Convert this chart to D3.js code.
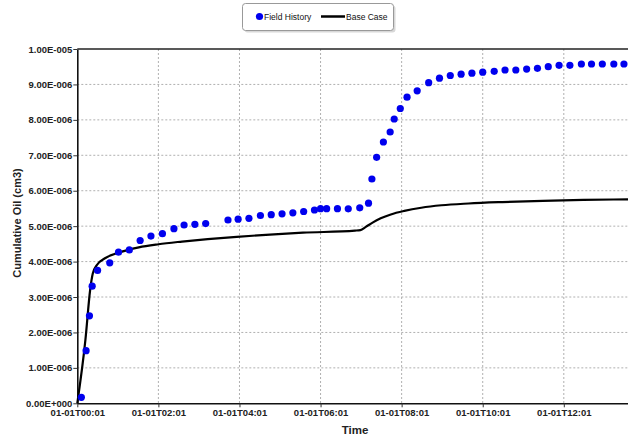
<!DOCTYPE html>
<html>
<head>
<meta charset="utf-8">
<script src="https://cdn.jsdelivr.net/npm/d3@7"></script>
<style>
  html, body { margin: 0; padding: 0; background: #fff; }
  svg { display: block; font-family: "Liberation Sans", Arial, sans-serif; }
</style>
</head>
<body>
<svg id="chart" width="628" height="442"></svg>
<script>
// ---- Data (time in minutes after 01-01 00:00, cumulative oil in cm3) ----
const fieldTime = [7, 14, 19, 23, 31, 49, 62, 78, 94, 110, 127, 144, 159, 175, 191,
  224, 239, 255, 272, 288, 304, 320, 336, 352, 361, 370, 386, 402, 419,
  432, 437, 444, 454, 464, 470, 479, 489, 504, 521, 537, 553, 569, 585, 601,
  618, 634, 650, 666, 682, 698, 714, 730, 747, 762, 778, 795, 810];
const fieldOil = [0.17e-6, 1.485e-6, 2.47e-6, 3.305e-6, 3.75e-6, 3.965e-6, 4.265e-6, 4.33e-6, 4.595e-6, 4.72e-6,
  4.787e-6, 4.928e-6, 5.032e-6, 5.052e-6, 5.072e-6,
  5.174e-6, 5.196e-6, 5.222e-6, 5.30e-6, 5.323e-6, 5.349e-6, 5.377e-6, 5.413e-6, 5.456e-6, 5.493e-6,
  5.493e-6, 5.493e-6, 5.49e-6, 5.518e-6,
  5.648e-6, 6.331e-6, 6.943e-6, 7.375e-6, 7.657e-6, 8.024e-6, 8.321e-6, 8.64e-6, 8.82e-6, 9.049e-6,
  9.176e-6, 9.252e-6, 9.289e-6, 9.317e-6, 9.345e-6, 9.371e-6, 9.407e-6, 9.407e-6, 9.433e-6, 9.455e-6,
  9.50e-6, 9.54e-6, 9.54e-6, 9.577e-6, 9.577e-6, 9.577e-6, 9.577e-6, 9.577e-6];

const baseTime = [1, 13, 20, 24, 30, 42, 62, 92, 121, 156, 194, 237, 286, 335, 412, 420,
  428, 438, 450, 465, 485, 510, 540, 580, 630, 690, 750, 816];
const baseOil = [0, 1.787e-6, 3.198e-6, 3.669e-6, 3.903e-6, 4.093e-6, 4.25e-6, 4.403e-6, 4.49e-6, 4.565e-6,
  4.635e-6, 4.70e-6, 4.762e-6, 4.815e-6, 4.875e-6, 4.89e-6,
  4.98e-6, 5.10e-6, 5.22e-6, 5.33e-6, 5.43e-6, 5.52e-6, 5.59e-6, 5.64e-6, 5.68e-6, 5.715e-6, 5.74e-6, 5.758e-6];

const xTickValues = [1, 121, 241, 361, 481, 601, 721];
const xTickLabels = ["01-01T00:01", "01-01T02:01", "01-01T04:01", "01-01T06:01",
  "01-01T08:01", "01-01T10:01", "01-01T12:01"];
const yTickValues = [0, 1e-6, 2e-6, 3e-6, 4e-6, 5e-6, 6e-6, 7e-6, 8e-6, 9e-6, 1e-5];
const yTickLabels = ["0.00E+000", "1.00E-006", "2.00E-006", "3.00E-006", "4.00E-006", "5.00E-006",
  "6.00E-006", "7.00E-006", "8.00E-006", "9.00E-006", "1.00E-005"];

const seriesNames = ["Field History", "Base Case"];
const xTitle = "Time";
const yTitle = "Cumulative Oil (cm3)";

// ---- Layout ----
const svg = d3.select("#chart");
const pLeft = 77.3, pRight = 628, pTop = 49, pBottom = 403.3;

const x = d3.scaleLinear().domain([1, 816]).range([pLeft, pRight]);
const y = d3.scaleLinear().domain([0, 1e-5]).range([pBottom, pTop]);

// grid
const grid = svg.append("g");
grid.selectAll("line.v").data(xTickValues.slice(1)).join("line")
  .attr("x1", d => x(d)).attr("x2", d => x(d))
  .attr("y1", pTop).attr("y2", pBottom)
  .attr("stroke", "#b0b0b0").attr("stroke-width", 1).attr("stroke-dasharray", "2,2");
grid.selectAll("line.h").data(yTickValues.slice(1, -1)).join("line")
  .attr("x1", pLeft).attr("x2", pRight)
  .attr("y1", d => y(d)).attr("y2", d => y(d))
  .attr("stroke", "#b0b0b0").attr("stroke-width", 1).attr("stroke-dasharray", "2,2");

// top border
svg.append("line").attr("x1", pLeft).attr("x2", pRight).attr("y1", pTop).attr("y2", pTop)
  .attr("stroke", "#222").attr("stroke-width", 1.3);

// axes
const xAxis = d3.axisBottom(x).tickValues(xTickValues)
  .tickFormat((d, i) => xTickLabels[i]).tickSize(4).tickSizeOuter(0);
const gx = svg.append("g").attr("transform", `translate(0,${pBottom})`).call(xAxis);
gx.select(".domain").attr("stroke", "#111").attr("stroke-width", 1.6);
gx.selectAll(".tick line").attr("stroke", "#333");
gx.selectAll("text").attr("font-size", "9.5px").attr("font-weight", "bold")
  .attr("fill", "#222").attr("font-family", "Liberation Sans, Arial, sans-serif").attr("dy", "0.55em");

const yAxis = d3.axisLeft(y).tickValues(yTickValues)
  .tickFormat((d, i) => yTickLabels[i]).tickSize(4).tickSizeOuter(0);
const gy = svg.append("g").attr("transform", `translate(${pLeft},0)`).call(yAxis);
gy.select(".domain").attr("stroke", "#111").attr("stroke-width", 1.6);
gy.selectAll(".tick line").attr("stroke", "#333");
gy.selectAll("text").attr("font-size", "9.5px").attr("font-weight", "bold")
  .attr("fill", "#222").attr("font-family", "Liberation Sans, Arial, sans-serif").attr("x", -5);

// axis titles
svg.append("text").attr("x", 355).attr("y", 434).attr("text-anchor", "middle")
  .attr("font-size", "11.5px").attr("font-weight", "bold").attr("fill", "#222").text(xTitle);
svg.append("text").attr("transform", "translate(21,223) rotate(-90)").attr("text-anchor", "middle")
  .attr("font-size", "11px").attr("font-weight", "bold").attr("fill", "#222").text(yTitle);

// base case line
const baseData = baseTime.map((t, i) => [t, baseOil[i]]);
svg.append("path").datum(baseData)
  .attr("fill", "none").attr("stroke", "#000").attr("stroke-width", 2.2)
  .attr("d", d3.line().x(d => x(d[0])).y(d => y(d[1])).curve(d3.curveMonotoneX));

// field history points
const fieldData = fieldTime.map((t, i) => [t, fieldOil[i]]);
svg.append("g").selectAll("circle").data(fieldData).join("circle")
  .attr("cx", d => x(d[0])).attr("cy", d => y(d[1])).attr("r", 3.6)
  .attr("fill", "#0000ee");

// legend
const lg = svg.append("g");
lg.append("rect").attr("x", 243.5).attr("y", 4.5).attr("width", 151).attr("height", 27)
  .attr("rx", 3).attr("fill", "#d8d8d8").attr("transform", "translate(1,1)");
lg.append("rect").attr("x", 242.5).attr("y", 3.5).attr("width", 151).attr("height", 27)
  .attr("rx", 3).attr("fill", "#fff").attr("stroke", "#999").attr("stroke-width", 1);
lg.append("circle").attr("cx", 259.5).attr("cy", 16.5).attr("r", 3.6).attr("fill", "#0000ee");
lg.append("text").attr("x", 264).attr("y", 19.5).attr("font-size", "8.5px").attr("fill", "#111")
  .text(seriesNames[0]);
lg.append("line").attr("x1", 321).attr("x2", 345).attr("y1", 16.5).attr("y2", 16.5)
  .attr("stroke", "#000").attr("stroke-width", 2.5);
lg.append("text").attr("x", 346).attr("y", 19.5).attr("font-size", "8.5px").attr("fill", "#111")
  .text(seriesNames[1]);
</script>
</body>
</html>
